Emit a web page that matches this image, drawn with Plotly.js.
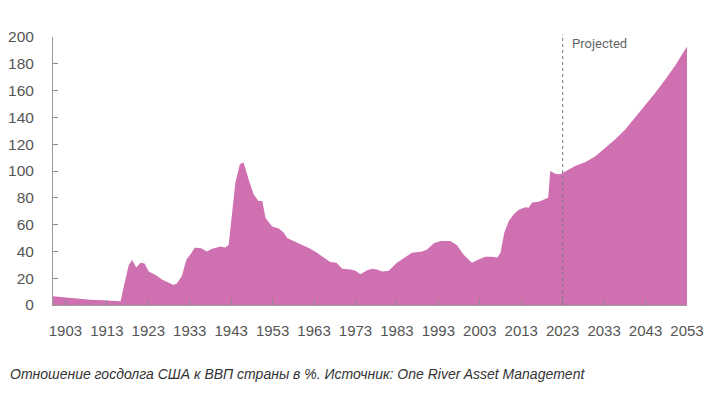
<!DOCTYPE html>
<html>
<head>
<meta charset="utf-8">
<script src="https://cdn.plot.ly/plotly-3.0.1.min.js"></script>
<style>
html,body{margin:0;padding:0;background:#fff;}
#chart{width:721px;height:396px;}
</style>
</head>
<body>
<div id="chart"></div>
<script>
// Debt-to-GDP ratio (%)
var years = [
  1900, 1903, 1906, 1909, 1912, 1915, 1916.3, 1917.1, 1918.3, 1919.1, 1920.1, 1921.1, 1922.1, 1923.1,
  1924.7, 1926.3, 1927.9, 1929.1, 1929.9, 1931.1, 1932.2, 1933.2, 1934.2, 1935.6, 1937.2, 1938.2,
  1940.4, 1941.6, 1942.4, 1943.2, 1944.0, 1945.1, 1946.0, 1947.2, 1948.4, 1949.6, 1950.5,
  1951.3, 1952.9, 1954.5, 1955.7, 1956.5, 1958.1, 1960.1, 1962.1, 1963.7, 1965.3, 1966.9,
  1968.4, 1969.8, 1971.8, 1973.0, 1974.2, 1975.8, 1977.0, 1978.2, 1979.4, 1981.0, 1983.0, 1984.6,
  1986.6, 1989.1, 1990.3, 1991.9, 1993.5, 1995.9, 1997.5, 1999.1, 2001.1, 2003.1, 2004.3, 2005.9,
  2007.2, 2008.0, 2008.9, 2010.0, 2011.2, 2012.4, 2014.0, 2014.8, 2015.6, 2017.2, 2018.8, 2019.5,
  2020.0, 2021.2, 2022.4, 2024.4, 2026.0, 2028.5, 2030.9, 2033.3, 2035.7, 2038.1, 2040.5, 2043.0,
  2045.4, 2047.8, 2050.2, 2053
];
var debtPct = [
  6.5, 5.6, 4.6, 4.0, 3.5, 3.0, 2.8, 14, 30, 33.6, 28, 31.6, 31, 25,
  22.6, 19, 16.8, 15, 16, 21.6, 34, 37.8, 42.8, 42.5, 40, 41.8,
  43.6, 43, 45, 69, 91, 105, 106.3, 93.8, 82.6, 77.6, 77.6,
  65, 58.5, 57, 54, 50, 47.8, 44.5, 42, 39, 35.4, 32,
  31.5, 27, 26.5, 25.5, 23, 26, 27, 26.5, 25, 25.5, 31.5, 34.6,
  39, 40, 41.5, 46, 47.8, 47.8, 44.6, 37.5, 31.6, 34.6, 36, 36,
  35.4, 39, 54, 62.7, 67.7, 71, 73, 72.5, 76.4, 77, 79, 80,
  100, 98, 97.5, 101, 103.7, 106.7, 111, 117.4, 123.7, 131, 139.8, 149,
  158.5, 168.4, 179, 193
];
var tickYears = [1903, 1913, 1923, 1933, 1943, 1953, 1963, 1973, 1983, 1993, 2003, 2013, 2023, 2033, 2043, 2053];
var yTicks = [0, 20, 40, 60, 80, 100, 120, 140, 160, 180, 200];
var projectionStart = 2023;
var captionText = 'Отношение госдолга США к ВВП страны в %. Источник: One River Asset Management';

var trace = {
  x: years,
  y: debtPct,
  type: 'scatter',
  mode: 'lines',
  fill: 'tozeroy',
  fillcolor: '#CF70B1',
  line: {width: 0, color: '#CF70B1'},
  hoverinfo: 'x+y'
};

var layout = {
  width: 721,
  height: 396,
  margin: {l: 53, r: 34, t: 37, b: 91, pad: 0},
  paper_bgcolor: '#ffffff',
  plot_bgcolor: '#ffffff',
  showlegend: false,
  font: {family: 'Arial, "Liberation Sans", sans-serif', size: 15, color: '#595959'},
  xaxis: {
    range: [1900, 2053],
    tickmode: 'array',
    tickvals: tickYears,
    ticktext: tickYears.map(String),
    ticks: 'inside',
    ticklen: 5,
    tickcolor: '#8c8c8c',
    showline: true,
    linecolor: '#9a9a9a',
    linewidth: 1,
    showgrid: false,
    zeroline: false,
    ticklabelstandoff: 12,
    tickfont: {size: 15, color: '#555555'}
  },
  yaxis: {
    range: [0, 200],
    tickmode: 'array',
    tickvals: yTicks,
    ticks: 'inside',
    ticklen: 5,
    tickcolor: '#8c8c8c',
    showline: true,
    linecolor: '#9a9a9a',
    linewidth: 1,
    showgrid: false,
    zeroline: false,
    ticklabelstandoff: 15,
    tickfont: {size: 15.5, color: '#555555'}
  },
  shapes: [{
    type: 'line',
    xref: 'x', yref: 'paper',
    x0: projectionStart, x1: projectionStart,
    y0: 0, y1: 1.01,
    line: {color: '#7a7a7a', width: 1, dash: 'dot'},
    layer: 'above'
  }],
  annotations: [{
    xref: 'x', yref: 'paper',
    x: projectionStart, y: 0.976,
    xanchor: 'left', yanchor: 'middle',
    xshift: 7,
    text: 'Projected',
    showarrow: false,
    font: {family: 'Roboto, "Open Sans", sans-serif', size: 13, color: '#666666'}
  }, {
    xref: 'paper', yref: 'paper',
    x: -0.071, y: -0.257,
    xanchor: 'left', yanchor: 'middle',
    text: '<i>' + captionText + '</i>',
    showarrow: false,
    font: {family: 'Arial, "Liberation Sans", sans-serif', size: 14, color: '#333333'}
  }]
};

Plotly.newPlot('chart', [trace], layout, {displayModeBar: false, staticPlot: true});
</script>
</body>
</html>
